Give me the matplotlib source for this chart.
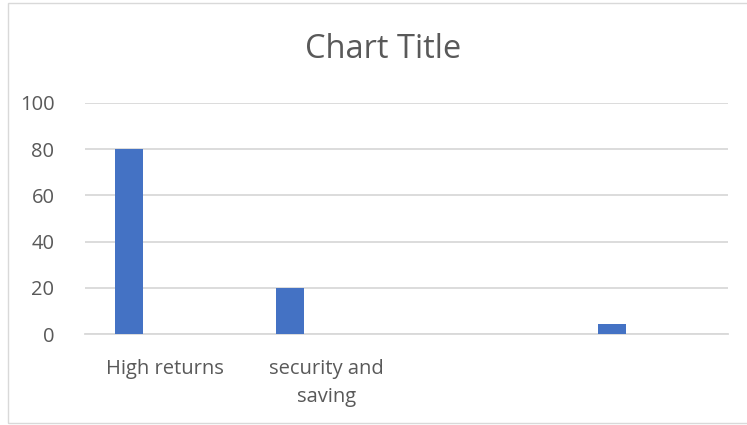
import matplotlib
matplotlib.use("Agg")
import matplotlib.pyplot as plt
from matplotlib.patches import Rectangle

plt.rcParams['font.family'] = ['Open Sans', 'DejaVu Sans']

# category data
categories = ["High returns", "security and\nsaving", "", ""]
values = [80, 20, 0, 4.3]
yticks = [0, 20, 40, 60, 80, 100]

W, H = 747, 425
fig = plt.figure(figsize=(W / 100, H / 100), dpi=100)

# outer chart border
fig.patches.append(Rectangle((8 / W, 2 / H), 1.2, (420 / H), transform=fig.transFigure,
                             fill=False, edgecolor="#d9d9d9", linewidth=1))

ax = fig.add_axes([85 / W, 1 - 334 / H, 643 / W, 231 / H])

xs = [i - 0.224 for i in range(len(categories))]
ax.bar(xs, values, width=0.174, color="#4472C4", zorder=3)

ax.set_xlim(-0.5, len(categories) - 0.5)
ax.set_ylim(0, 100)
ax.set_yticks(yticks)
ax.set_xticks(range(len(categories)))
ax.set_xticklabels(categories, linespacing=1.55)

ax.grid(axis="y", color="#d9d9d9", linewidth=1.3, zorder=0)
for s in ["top", "right", "left"]:
    ax.spines[s].set_visible(False)
ax.spines["bottom"].set_color("#d9d9d9")
ax.spines["bottom"].set_linewidth(1.3)
ax.tick_params(axis="both", length=0, colors="#595959")
ax.tick_params(axis="x", pad=18, labelsize=14.5)
ax.tick_params(axis="y", pad=22, labelsize=14.5)

fig.text(383 / W, 1 - 49 / H, "Chart Title", ha="center", va="center",
         fontsize=23.5, color="#595959")

fig.savefig("out.png", dpi=100)
